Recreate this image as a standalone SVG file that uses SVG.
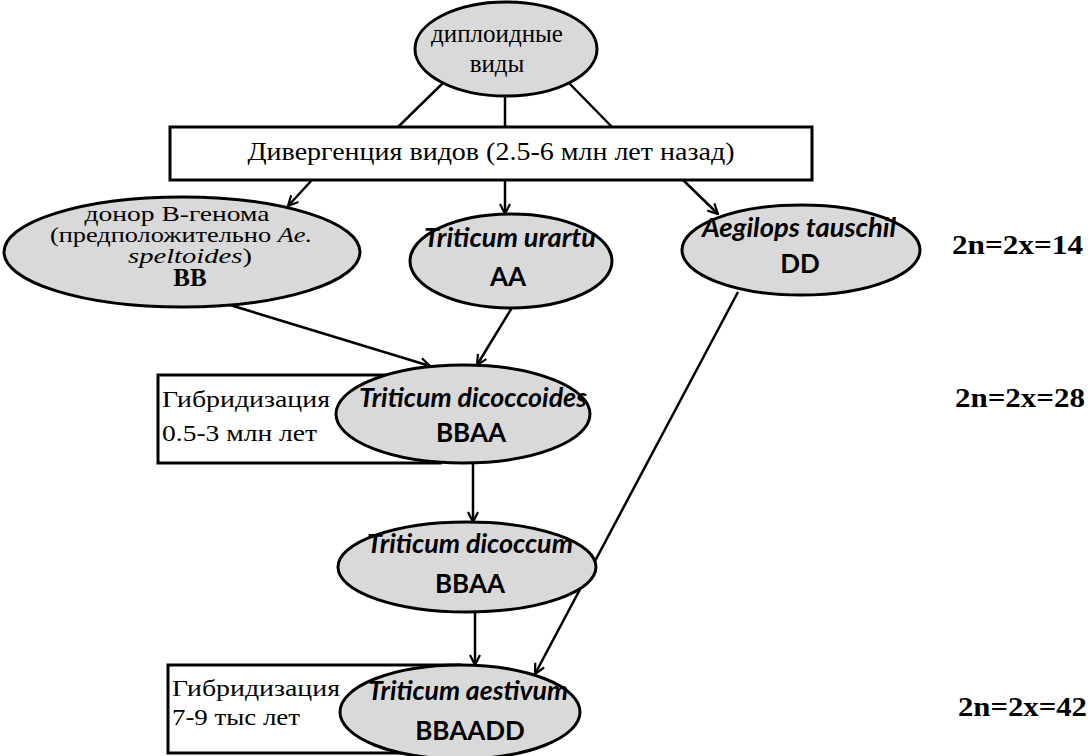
<svg xmlns="http://www.w3.org/2000/svg" width="1092" height="756" viewBox="0 0 1092 756">
<defs>
<marker id="arr" viewBox="0 0 12 12" refX="11" refY="6" markerWidth="12" markerHeight="12" markerUnits="userSpaceOnUse" orient="auto">
<path d="M1,1 L11,6 L1,11" fill="none" stroke="#000" stroke-width="2.2"/>
</marker>
<style>
.ell{fill:#d9d9d9;stroke:#000;stroke-width:3}
.box{fill:#fff;stroke:#000;stroke-width:3}
.ser{font-family:"Liberation Serif","Times New Roman",serif;fill:#000}
.sans{font-family:"Lato","Liberation Sans",Arial,sans-serif;font-weight:bold;fill:#000}
.it{font-style:italic}
.lbl{font-family:"Liberation Serif","Times New Roman",serif;font-weight:bold;font-size:27px;fill:#000}
.con{stroke:#000;stroke-width:2.5;fill:none}
.arrow{marker-end:url(#arr)}
</style>
</defs>
<rect width="1092" height="756" fill="#fff"/>

<g id="divergence">
<rect class="box" x="170" y="127" width="642" height="53"/>
<text class="ser" x="491" y="160" font-size="26" text-anchor="middle" textLength="487" lengthAdjust="spacingAndGlyphs">Дивергенция видов (2.5-6 млн лет назад)</text>
</g>

<g id="hyb1">
<rect class="box" x="158" y="375" width="282" height="88"/>
<text class="ser" x="162" y="407" font-size="24" textLength="168" lengthAdjust="spacingAndGlyphs">Гибридизация</text>
<text class="ser" x="162" y="441" font-size="24" textLength="155" lengthAdjust="spacingAndGlyphs">0.5-3 млн лет</text>
</g>

<g id="hyb2">
<rect class="box" x="168" y="665" width="292" height="88"/>
<text class="ser" x="172" y="696" font-size="24" textLength="168" lengthAdjust="spacingAndGlyphs">Гибридизация</text>
<text class="ser" x="172" y="725" font-size="24" textLength="128" lengthAdjust="spacingAndGlyphs">7-9 тыс лет</text>
</g>

<g id="connectors">
<line class="con" x1="444" y1="82" x2="398" y2="127"/>
<line class="con" x1="505" y1="94" x2="505" y2="127"/>
<line class="con" x1="568" y1="82" x2="612" y2="127"/>
<line class="con arrow" x1="312" y1="180" x2="288" y2="206"/>
<line class="con arrow" x1="505" y1="180" x2="505" y2="214"/>
<line class="con arrow" x1="683" y1="180" x2="718" y2="214"/>
<line class="con arrow" x1="230" y1="305" x2="430" y2="366"/>
<line class="con arrow" x1="513" y1="306" x2="477" y2="365"/>
<line class="con arrow" x1="473" y1="462" x2="473" y2="522"/>
<line class="con arrow" x1="738" y1="292" x2="535" y2="674"/>
<line class="con arrow" x1="475" y1="611" x2="475" y2="665"/>
</g>

<g id="diploid">
<ellipse class="ell" cx="506" cy="49" rx="91" ry="47"/>
<text class="ser" x="497" y="42" font-size="25" text-anchor="middle">диплоидные</text>
<text class="ser" x="497" y="72" font-size="25" text-anchor="middle">виды</text>
</g>

<g id="donorB">
<ellipse class="ell" cx="182" cy="252" rx="178" ry="55"/>
<text class="ser" x="177" y="221" font-size="21" text-anchor="middle" textLength="185" lengthAdjust="spacingAndGlyphs">донор В-генома</text>
<text class="ser" x="181" y="242" font-size="21" text-anchor="middle" textLength="262" lengthAdjust="spacingAndGlyphs">(предположительно <tspan class="it">Ae.</tspan></text>
<text class="ser" x="190" y="263" font-size="21" text-anchor="middle" textLength="124" lengthAdjust="spacingAndGlyphs"><tspan class="it">speltoides</tspan>)</text>
<text class="ser" x="190" y="286" font-size="25" font-weight="bold" text-anchor="middle">BB</text>
</g>

<g id="urartu">
<ellipse class="ell" cx="511" cy="261" rx="101" ry="47"/>
<text class="sans it" x="510" y="247" font-size="26" text-anchor="middle" textLength="172" lengthAdjust="spacingAndGlyphs">Triticum urartu</text>
<text class="sans" x="508" y="286" font-size="26" text-anchor="middle">AA</text>
</g>

<g id="tauschii">
<ellipse class="ell" cx="801" cy="250" rx="119" ry="45"/>
<text class="sans it" x="799" y="237" font-size="26" text-anchor="middle" textLength="194" lengthAdjust="spacingAndGlyphs">Aegilops tauschil</text>
<text class="sans" x="800" y="273" font-size="26" text-anchor="middle">DD</text>
</g>

<g id="dicoccoides">
<ellipse class="ell" cx="463" cy="414" rx="127" ry="49"/>
<text class="sans it" x="473" y="407" font-size="26" text-anchor="middle" textLength="228" lengthAdjust="spacingAndGlyphs">Triticum dicoccoides</text>
<text class="sans" x="471" y="442" font-size="26" text-anchor="middle">BBAA</text>
</g>

<g id="dicoccum">
<ellipse class="ell" cx="467" cy="567" rx="129" ry="45"/>
<text class="sans it" x="470" y="553" font-size="26" text-anchor="middle" textLength="206" lengthAdjust="spacingAndGlyphs">Triticum dicoccum</text>
<text class="sans" x="470" y="593" font-size="26" text-anchor="middle">BBAA</text>
</g>

<g id="aestivum">
<ellipse class="ell" cx="460" cy="712" rx="120" ry="47"/>
<text class="sans it" x="468" y="700" font-size="26" text-anchor="middle" textLength="200" lengthAdjust="spacingAndGlyphs">Triticum aestivum</text>
<text class="sans" x="470" y="740" font-size="26" text-anchor="middle">BBAADD</text>
</g>

<g id="ploidy">
<text class="lbl" x="952" y="254" textLength="131" lengthAdjust="spacingAndGlyphs">2n=2x=14</text>
<text class="lbl" x="955" y="407" textLength="130" lengthAdjust="spacingAndGlyphs">2n=2x=28</text>
<text class="lbl" x="958" y="716" textLength="129" lengthAdjust="spacingAndGlyphs">2n=2x=42</text>
</g>
</svg>
